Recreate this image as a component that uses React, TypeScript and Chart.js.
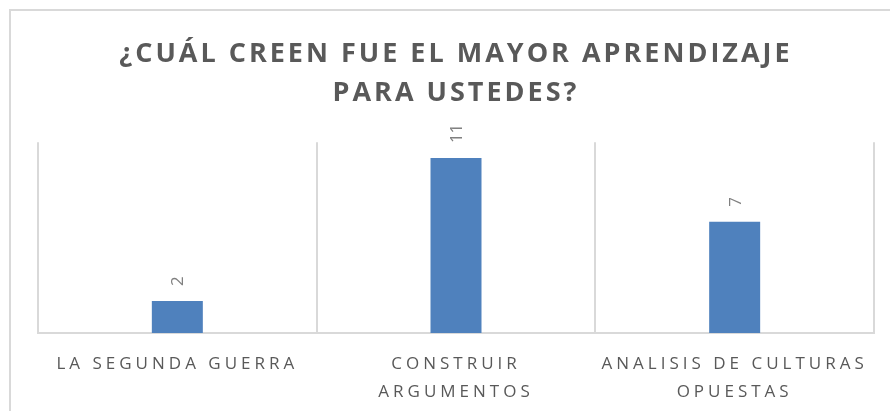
import React, { useEffect, useRef } from 'react';
import { Chart, registerables } from 'chart.js';

Chart.register(...registerables);

const categories: (string | string[])[] = [
  'LA SEGUNDA GUERRA',
  ['CONSTRUIR', 'ARGUMENTOS'],
  ['ANALISIS DE CULTURAS', 'OPUESTAS'],
];
const values = [2, 11, 7];
const titleLines = ['¿CUÁL CREEN FUE EL MAYOR APRENDIZAJE', 'PARA USTEDES?'];
const yMin = 0;
const yMax = 12;

const spacingPlugin = {
  id: 'spacingAndLabels',
  beforeDraw(chart: any) {
    chart.ctx.letterSpacing = '3px';
  },
  afterDatasetsDraw(chart: any) {
    const ctx = chart.ctx;
    ctx.letterSpacing = '0px';
    const meta = chart.getDatasetMeta(0);
    ctx.save();
    ctx.font = '17px "Open Sans"';
    ctx.fillStyle = '#808080';
    ctx.textAlign = 'left';
    ctx.textBaseline = 'middle';
    meta.data.forEach((el: any, i: number) => {
      ctx.save();
      ctx.translate(el.x + 1, el.y - 15);
      ctx.rotate(-Math.PI / 2);
      ctx.fillText(String(values[i]), 0, 0);
      ctx.restore();
    });
    ctx.restore();
    ctx.letterSpacing = '4px';
  },
  afterDraw(chart: any) {
    chart.ctx.letterSpacing = '0px';
  },
};

export default function App() {
  const ref = useRef<HTMLCanvasElement | null>(null);
  useEffect(() => {
    if (!ref.current) return;
    const chart = new Chart(ref.current, {
      type: 'bar',
      data: {
        labels: categories,
        datasets: [
          {
            data: values,
            backgroundColor: '#4f81bd',
            borderWidth: 0,
            categoryPercentage: 1,
            barPercentage: 0.183,
          },
        ],
      },
      options: {
        responsive: false,
        animation: false,
        events: [],
        layout: { padding: { left: 27, right: 25, top: 0, bottom: 0 } },
        plugins: {
          legend: { display: false },
          tooltip: { enabled: false },
          title: {
            display: true,
            text: titleLines,
            color: '#595959',
            font: { family: '"Open Sans"', size: 27, weight: 'bold', lineHeight: 1.43 },
            padding: { top: 24, bottom: 30 },
          },
        },
        scales: {
          x: {
            grid: { color: '#d9d9d9', lineWidth: 2, drawTicks: false, offset: true },
            border: { color: '#d9d9d9', width: 2 },
            ticks: {
              color: '#595959',
              font: { family: '"Open Sans"', size: 17, lineHeight: 1.65 },
              padding: 17,
              maxRotation: 0,
              autoSkip: false,
              z: 1,
            },
          },
          y: { display: false, min: yMin, max: yMax },
        },
      },
      plugins: [spacingPlugin],
    } as any);
    return () => chart.destroy();
  }, []);

  return (
    <div style={{ position: 'fixed', left: 0, top: 0, width: 890, height: 411, overflow: 'hidden', background: '#fff' }}>
      <div
        style={{
          position: 'absolute',
          left: 9,
          top: 9,
          width: 892,
          height: 428,
          border: '2px solid #d9d9d9',
          boxSizing: 'border-box',
          background: '#fff',
        }}
      >
        <canvas ref={ref} width={888} height={412} style={{ display: 'block' }} />
      </div>
    </div>
  );
}
